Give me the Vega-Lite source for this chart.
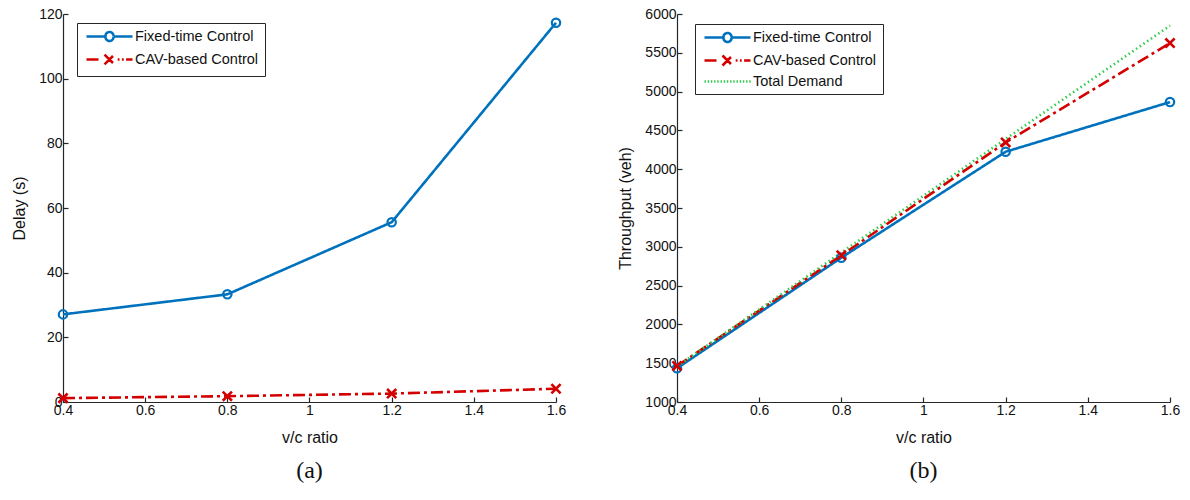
{
  "$schema": "https://vega.github.io/schema/vega-lite/v6.json",
  "background": "white",
  "padding": {"left": 11, "top": 7, "right": 10, "bottom": 5},
  "spacing": 51,
  "config": {
    "view": {"stroke": null},
    "font": "Liberation Sans",
    "axis": {
      "grid": false,
      "domainColor": "#262626",
      "domainWidth": 1.2,
      "tickColor": "#262626",
      "tickWidth": 1.2,
      "tickSize": -5,
      "labelColor": "#111111",
      "labelFontSize": 14,
      "labelPadding": 6,
      "labelFlush": false,
      "labelOverlap": false,
      "titleFontSize": 16,
      "titleFontWeight": "normal",
      "titleColor": "#111111"
    },
    "legend": {
      "orient": "none",
      "title": null,
      "fillColor": "white",
      "strokeColor": "#262626",
      "padding": 6,
      "rowPadding": 2,
      "labelFontSize": 14.5,
      "labelColor": "#111111",
      "labelOffset": 35,
      "symbolOffset": 2,
      "symbolSize": 144,
      "symbolStrokeWidth": 2.5
    },
    "title": {"font": "Liberation Serif", "fontSize": 24, "fontWeight": "normal", "color": "#111111", "orient": "bottom", "offset": 14}
  },
  "resolve": {"scale": {"color": "independent", "strokeDash": "independent", "strokeWidth": "independent", "x": "independent", "y": "independent"}, "legend": {"color": "independent"}},
  "hconcat": [
    {
      "width": 493,
      "height": 388,
      "title": {"text": "(a)"},
      "data": {"values": [
        {"vc": 0.4, "delay": 27.1, "series": "Fixed-time Control"},
        {"vc": 0.8, "delay": 33.3, "series": "Fixed-time Control"},
        {"vc": 1.2, "delay": 55.6, "series": "Fixed-time Control"},
        {"vc": 1.6, "delay": 117.3, "series": "Fixed-time Control"},
        {"vc": 0.4, "delay": 1.2, "series": "CAV-based Control"},
        {"vc": 0.8, "delay": 1.8, "series": "CAV-based Control"},
        {"vc": 1.2, "delay": 2.6, "series": "CAV-based Control"},
        {"vc": 1.6, "delay": 4.1, "series": "CAV-based Control"}
      ]},
      "encoding": {
        "x": {"field": "vc", "type": "quantitative", "scale": {"domain": [0.4, 1.6], "nice": false, "zero": false},
              "axis": {"title": "v/c ratio", "values": [0.4, 0.6, 0.8, 1, 1.2, 1.4, 1.6], "format": "~g", "titlePadding": 12}},
        "y": {"field": "delay", "type": "quantitative", "scale": {"domain": [0, 120], "nice": false},
              "axis": {"title": "Delay (s)", "values": [0, 20, 40, 60, 80, 100, 120], "format": "d", "titlePadding": 11}},
        "color": {"field": "series", "type": "nominal",
                  "scale": {"domain": ["Fixed-time Control", "CAV-based Control"], "range": ["#0072BD", "#D40000"]},
                  "legend": {"legendX": 14, "legendY": 9,
                    "encoding": {"symbols": {
                      "shape": {"value": {"expr": "datum.value === 'Fixed-time Control' ? 'M-1,0H2.17M3.5,0H6.67M3.5,0A0.67,0.67,0,1,1,2.17,0A0.67,0.67,0,1,1,3.5,0' : 'M-1,0H1.2M4.2,0H4.5M4.9,0H5.2M5.6,0H6.67M2,-0.83L3.66,0.83M2,0.83L3.66,-0.83'"}},
                      "fill": {"value": "transparent"},
                      "strokeDash": {"value": [1, 0]},
                      "strokeWidth": {"value": 2.5}
                    }}}}
      },
      "layer": [
        {"mark": {"type": "line", "strokeWidth": 2.6},
         "encoding": {"strokeDash": {"field": "series", "type": "nominal", "scale": {"domain": ["Fixed-time Control", "CAV-based Control"], "range": [[1, 0], [12, 4, 3, 4]]}, "legend": null}}},
        {"transform": [{"filter": "datum.series === 'Fixed-time Control'"}],
         "mark": {"type": "point", "shape": "circle", "filled": false, "strokeWidth": 2.2, "size": 70, "opacity": 1}},
        {"transform": [{"filter": "datum.series === 'CAV-based Control'"}],
         "mark": {"type": "point", "shape": "M-1.1,-1.1L1.1,1.1M-1.1,1.1L1.1,-1.1", "filled": false, "strokeWidth": 2.6, "size": 70, "opacity": 1}}
      ]
    },
    {
      "width": 493,
      "height": 388,
      "title": {"text": "(b)"},
      "data": {"values": [
        {"vc": 0.4, "throughput": 1435, "series": "Fixed-time Control"},
        {"vc": 0.8, "throughput": 2860, "series": "Fixed-time Control"},
        {"vc": 1.2, "throughput": 4225, "series": "Fixed-time Control"},
        {"vc": 1.6, "throughput": 4865, "series": "Fixed-time Control"},
        {"vc": 0.4, "throughput": 1465, "series": "CAV-based Control"},
        {"vc": 0.8, "throughput": 2890, "series": "CAV-based Control"},
        {"vc": 1.2, "throughput": 4345, "series": "CAV-based Control"},
        {"vc": 1.6, "throughput": 5625, "series": "CAV-based Control"},
        {"vc": 0.4, "throughput": 1460, "series": "Total Demand"},
        {"vc": 0.8, "throughput": 2925, "series": "Total Demand"},
        {"vc": 1.2, "throughput": 4390, "series": "Total Demand"},
        {"vc": 1.6, "throughput": 5850, "series": "Total Demand"}
      ]},
      "encoding": {
        "x": {"field": "vc", "type": "quantitative", "scale": {"domain": [0.4, 1.6], "nice": false, "zero": false},
              "axis": {"title": "v/c ratio", "values": [0.4, 0.6, 0.8, 1, 1.2, 1.4, 1.6], "format": "~g", "titlePadding": 12}},
        "y": {"field": "throughput", "type": "quantitative", "scale": {"domain": [1000, 6000], "nice": false, "zero": false},
              "axis": {"title": "Throughput (veh)", "values": [1000, 1500, 2000, 2500, 3000, 3500, 4000, 4500, 5000, 5500, 6000], "format": "d", "titlePadding": 11}},
        "color": {"field": "series", "type": "nominal",
                  "scale": {"domain": ["Fixed-time Control", "CAV-based Control", "Total Demand"], "range": ["#0072BD", "#D40000", "#2ECC4A"]},
                  "legend": {"legendX": 18, "legendY": 10,
                    "encoding": {"symbols": {
                      "shape": {"value": {"expr": "datum.value === 'Fixed-time Control' ? 'M-1,0H2.17M3.5,0H6.67M3.5,0A0.67,0.67,0,1,1,2.17,0A0.67,0.67,0,1,1,3.5,0' : datum.value === 'CAV-based Control' ? 'M-1,0H1.2M4.2,0H4.5M4.9,0H5.2M5.6,0H6.67M2,-0.83L3.66,0.83M2,0.83L3.66,-0.83' : 'M-1,0h0.23M-0.47,0h0.23M0.07,0h0.23M0.6,0h0.23M1.13,0h0.23M1.67,0h0.23M2.2,0h0.23M2.73,0h0.23M3.27,0h0.23M3.8,0h0.23M4.33,0h0.23M4.87,0h0.23M5.4,0h0.23M5.93,0h0.23M6.47,0h0.23'"}},
                      "fill": {"value": "transparent"},
                      "strokeDash": {"value": [1, 0]},
                      "strokeWidth": {"value": {"expr": "datum.value === 'Total Demand' ? 1.8 : 2.5"}}
                    }}}}
      },
      "layer": [
        {"mark": {"type": "line"},
         "encoding": {
           "strokeDash": {"field": "series", "type": "nominal", "scale": {"domain": ["Fixed-time Control", "CAV-based Control", "Total Demand"], "range": [[1, 0], [12, 4, 3, 4], [1.5, 3]]}, "legend": null},
           "strokeWidth": {"field": "series", "type": "nominal", "scale": {"domain": ["Fixed-time Control", "CAV-based Control", "Total Demand"], "range": [2.6, 2.6, 1.6]}, "legend": null}
         }},
        {"transform": [{"filter": "datum.series === 'Fixed-time Control'"}],
         "mark": {"type": "point", "shape": "circle", "filled": false, "strokeWidth": 2.2, "size": 70, "opacity": 1}},
        {"transform": [{"filter": "datum.series === 'CAV-based Control'"}],
         "mark": {"type": "point", "shape": "M-1.1,-1.1L1.1,1.1M-1.1,1.1L1.1,-1.1", "filled": false, "strokeWidth": 2.6, "size": 70, "opacity": 1}}
      ]
    }
  ]
}
